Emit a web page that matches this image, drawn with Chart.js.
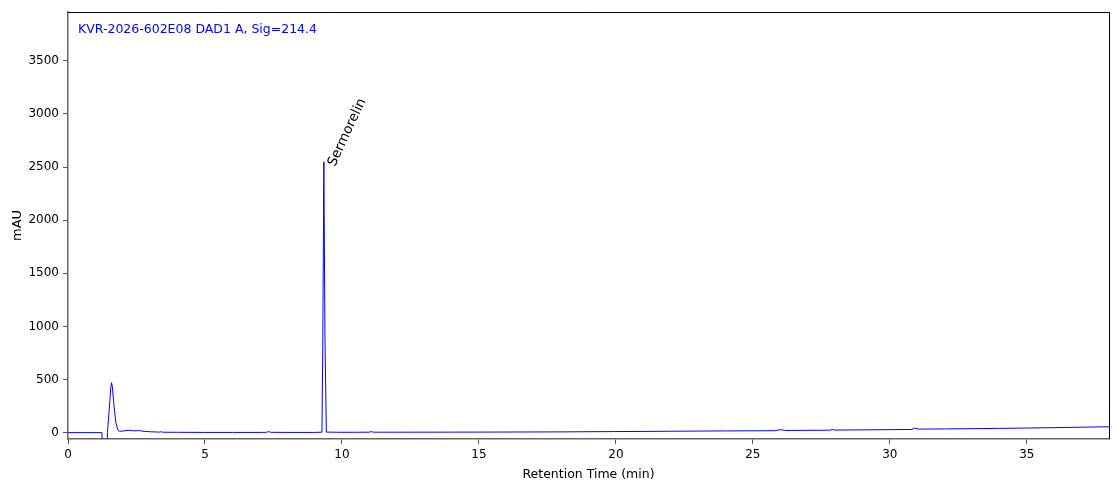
<!DOCTYPE html>
<html>
<head>
<meta charset="utf-8">
<script src="https://cdn.jsdelivr.net/npm/chart.js@4/dist/chart.umd.min.js"></script>
<style>
html,body{margin:0;padding:0;background:#fff;}
#wrap{width:1119px;height:499px;position:relative;}
</style>
</head>
<body>
<div id="wrap"><canvas id="c" width="1119" height="499"></canvas></div>
<script>
// Retention times (min) and signal (mAU)
const times = [0,1.24,1.25,1.42,1.44,1.50,1.56,1.59,1.62,1.68,1.75,1.82,1.88,2.0,2.15,2.26,2.4,2.55,2.6,2.7,3.0,3.35,3.4,3.45,4,5,6,7,7.25,7.32,7.4,8,9,9.27,9.30,9.34,9.38,9.43,10,11.0,11.07,11.15,12,15,18,20,22,24,25.8,26.0,26.2,27.8,27.9,28.0,30,30.8,30.9,31.05,32,34,35,36,37,38];
const signal = [0,0,-300,-300,0,200,420,470,430,250,90,25,12,15,20,22,17,18,20,14,8,5,9,4,3,2,2,2,3,10,3,2,2,4,800,2550,900,5,3,4,10,4,4,5,7,10,13,16,18,28,20,23,30,24,28,30,42,33,35,40,43,47,51,55];
const xTicks = [0,5,10,15,20,25,30,35];
const yTicks = [0,500,1000,1500,2000,2500,3000,3500];
const peakNames = ['Sermorelin'];
const peakTimes = [9.34];
const peakHeights = [2550];
const titleText = 'KVR-2026-602E08 DAD1 A, Sig=214.4';

const pts = times.map((t,i)=>({x:t,y:signal[i]}));
const FONT = 'DejaVu Sans';

const overlay = {
  id:'overlay',
  afterDraw(chart){
    const {ctx, chartArea:a, scales:{x,y}} = chart;
    ctx.save();
    ctx.strokeStyle='#000'; ctx.lineWidth=1;
    ctx.beginPath();
    ctx.moveTo(a.left, a.top+0.5); ctx.lineTo(a.right+0.5, a.top+0.5); ctx.lineTo(a.right+0.5, a.bottom);
    ctx.stroke();
    ctx.fillStyle='#0000ff';
    ctx.font='12.5px '+FONT;
    ctx.textBaseline='alphabetic';
    ctx.fillText(titleText, a.left+10, a.top+21);
    ctx.fillStyle='#000';
    ctx.font='13.5px '+FONT;
    peakNames.forEach((n,i)=>{
      const px = x.getPixelForValue(peakTimes[i]);
      const py = y.getPixelForValue(peakHeights[i]);
      ctx.save();
      ctx.translate(px+2, py+1);
      ctx.rotate(-65*Math.PI/180);
      ctx.textBaseline='alphabetic';
      ctx.fillText(n, 0, 10);
      ctx.restore();
    });
    ctx.restore();
  }
};

new Chart(document.getElementById('c'), {
  type:'scatter',
  data:{datasets:[{data:pts, showLine:true, borderColor:'#0000ff', backgroundColor:'#0000ff', borderWidth:1, pointRadius:0, tension:0}]},
  options:{
    responsive:false, animation:false,
    layout:{padding:{left:0,right:10,top:12,bottom:0}},
    plugins:{legend:{display:false}, tooltip:{enabled:false}},
    scales:{
      x:{type:'linear', min:0, max:38,
        afterBuildTicks(s){ s.ticks = xTicks.map(v=>({value:v})); },
        afterFit(s){ s.height = 60; },
        grid:{display:true, drawOnChartArea:false, drawTicks:true, tickLength:5, color:'#555'},
        border:{display:true, color:'#666', width:1.5},
        ticks:{color:'#000', font:{family:FONT,size:12}, padding:4, maxRotation:0, callback:v=>String(v)},
        title:{display:true, text:'Retention Time (min)', color:'#000', font:{family:FONT,size:12.5}, padding:{top:2,bottom:17}}
      },
      y:{type:'linear', min:-60, max:3960,
        afterBuildTicks(s){ s.ticks = yTicks.map(v=>({value:v})); },
        afterFit(s){ s.width = 68; },
        grid:{display:true, drawOnChartArea:false, drawTicks:true, tickLength:5, color:'#555'},
        border:{display:true, color:'#666', width:1.5},
        ticks:{color:'#000', font:{family:FONT,size:12}, padding:4, callback:v=>String(v)},
        title:{display:true, text:'mAU', color:'#000', font:{family:FONT,size:13}, padding:{top:10,bottom:4}}
      }
    }
  },
  plugins:[overlay]
});
</script>
</body>
</html>
